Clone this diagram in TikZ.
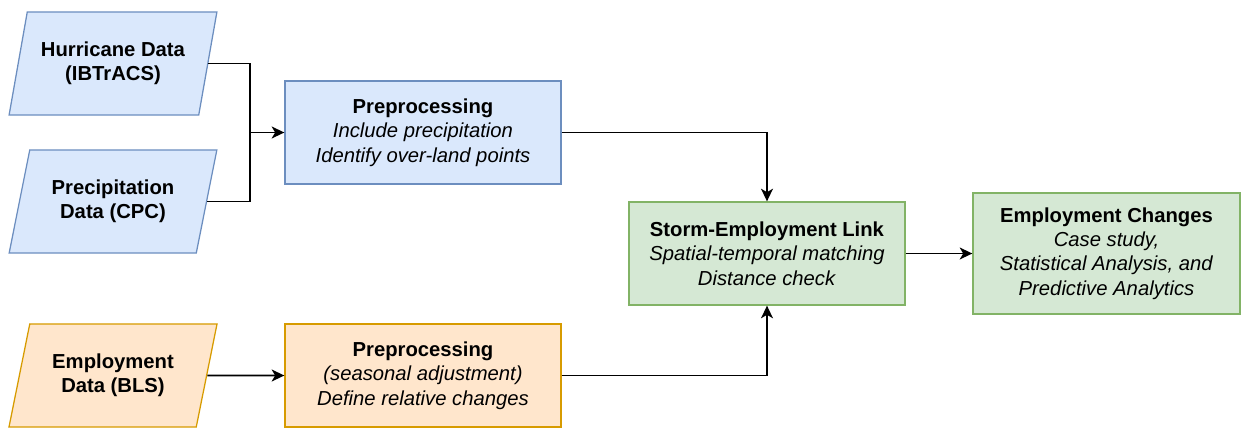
\documentclass[tikz,border=0pt]{standalone}
\usepackage{fontspec}
\setmainfont{Liberation Sans}
\usetikzlibrary{shapes.geometric,arrows.meta}
\definecolor{blueFill}{HTML}{DAE8FC}
\definecolor{blueLine}{HTML}{6C8EBF}
\definecolor{greenFill}{HTML}{D5E8D4}
\definecolor{greenLine}{HTML}{82B366}
\definecolor{orangeFill}{HTML}{FFE6CC}
\definecolor{orangeLine}{HTML}{D79B00}
\begin{document}
\begin{tikzpicture}[x=0.025cm, y=-0.025cm,
    font=\fontsize{14.4pt}{17.3pt}\selectfont,
    datos/.style={shape=trapezium, trapezium left angle=72, trapezium right angle=108,
      trapezium stretches=true, minimum width=5.2cm, minimum height=2.575cm,
      line width=0.9pt, align=center, inner sep=2pt},
    caja/.style={rectangle, minimum width=6.9cm, minimum height=2.575cm,
      line width=0.9pt, align=center},
    flecha/.style={line width=1.2pt, -{Stealth[length=9pt, width=8.5pt, inset=2.5pt]}},
    linea/.style={line width=1.2pt}]

    \useasboundingbox (0, 0) rectangle (1243, 428);

    % Datos de entrada
    \node[datos, fill=blueFill, draw=blueLine] (hur) at (113, 63.5) {\textbf{Hurricane Data}\\\textbf{(IBTrACS)}};
    \node[datos, fill=blueFill, draw=blueLine] (pcp) at (113, 201.5) {\textbf{Precipitation}\\\textbf{Data (CPC)}};
    \node[datos, fill=orangeFill, draw=orangeLine] (emp) at (113, 375.5) {\textbf{Employment}\\\textbf{Data (BLS)}};

    % Procesos
    \node[caja, fill=blueFill, draw=blueLine] (pre1) at (423, 132.5)
      {\textbf{Preprocessing}\\\textit{Include precipitation}\\\textit{Identify over-land points}};
    \node[caja, fill=orangeFill, draw=orangeLine] (pre2) at (423, 375.5)
      {\textbf{Preprocessing}\\\textit{(seasonal adjustment)}\\\textit{Define relative changes}};
    \node[caja, fill=greenFill, draw=greenLine] (link) at (767, 253.5)
      {\textbf{Storm-Employment Link}\\\textit{Spatial-temporal matching}\\\textit{Distance check}};
    \node[caja, fill=greenFill, draw=greenLine, minimum width=6.675cm, minimum height=3.025cm] (out) at (1106.5, 253.5)
      {\textbf{Employment Changes}\\\textit{Case study,}\\\textit{Statistical Analysis, and}\\\textit{Predictive Analytics}};

    % Conexiones
    \coordinate (union) at (250, 132.5);
    \draw[linea] (hur.east) -| (union) |- (pcp.east);
    \draw[flecha] (union) -- (pre1.west);
    \draw[flecha] (pre1.east) -| (link.north);
    \draw[flecha] (emp.east) -- (pre2.west);
    \draw[flecha] (pre2.east) -| (link.south);
    \draw[flecha] (link.east) -- (out.west);

  \end{tikzpicture}
\end{document}
